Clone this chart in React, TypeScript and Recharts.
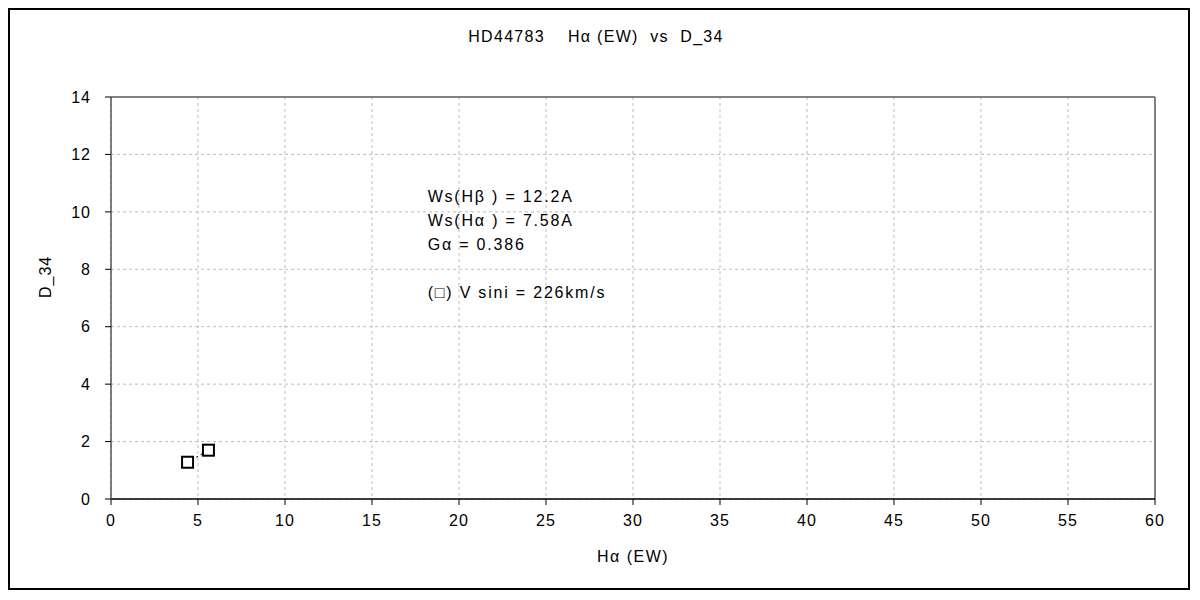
import { ScatterChart, Scatter, XAxis, YAxis, CartesianGrid, ReferenceLine, ReferenceDot } from 'recharts';

const haEW = [4.4, 5.6];
const d34 = [1.28, 1.7];
const xTicks = [0, 5, 10, 15, 20, 25, 30, 35, 40, 45, 50, 55, 60];
const yTicks = [0, 2, 4, 6, 8, 10, 12, 14];
const noteLines = ['Ws(Hβ ) = 12.2A', 'Ws(Hα ) = 7.58A', 'Gα = 0.386', '', '(□) V sini = 226km/s'];
const noteAt = { x: 18.2, y: 10.36 };

const points = haEW.map((x, i) => ({ x, y: d34[i] }));

const FONT = '"Liberation Sans", Arial, sans-serif';

const Square = (props: any) => {
  const { cx, cy } = props;
  if (cx == null || cy == null) return null;
  return <rect x={cx - 5.5} y={cy - 5.5} width={11} height={11} fill="#fff" stroke="#000" strokeWidth={2} />;
};

const Note = (props: any) => {
  const { cx, cy } = props;
  if (cx == null || cy == null) return null;
  return (
    <g>
      {noteLines.map((t, i) => (
        <text key={i} x={cx} y={cy + i * 24} fontSize={16} fill="#000" fontFamily={FONT} letterSpacing={1.8}>
          {t}
        </text>
      ))}
    </g>
  );
};

export default function App() {
  return (
    <div
      style={{
        position: 'relative',
        width: 1182,
        height: 582,
        boxSizing: 'border-box',
        border: '2px solid #000',
        background: '#fff',
        fontFamily: FONT,
      }}
    >
      <div
        style={{
          position: 'absolute',
          top: 18,
          left: 0,
          width: 1178,
          textAlign: 'center',
          fontSize: 16,
          letterSpacing: 1.3,
          paddingRight: 6,
          boxSizing: 'border-box',
        }}
      >
        HD44783{'\u00a0\u00a0\u00a0\u00a0'}Hα (EW){'\u00a0\u00a0'}vs{'\u00a0\u00a0'}D_34
      </div>
      <ScatterChart width={1178} height={578} margin={{ top: 87, right: 33, bottom: 29, left: 41 }}>
        <CartesianGrid stroke="#bdbdbd" strokeDasharray="3 3" />
        <XAxis
          type="number"
          dataKey="x"
          domain={[0, 60]}
          ticks={xTicks}
          interval={0}
          height={60}
          tickSize={6}
          tickMargin={10}
          axisLine={{ stroke: '#000', strokeWidth: 1.5 }}
          tickLine={{ stroke: '#000' }}
          tick={{ fill: '#000', fontSize: 16, fontFamily: FONT, letterSpacing: 1 }}
          label={{ value: 'Hα  (EW)', position: 'insideBottom', offset: -3, fill: '#000', fontSize: 16, fontFamily: FONT, letterSpacing: 1.5 }}
        />
        <YAxis
          type="number"
          dataKey="y"
          domain={[0, 14]}
          ticks={yTicks}
          interval={0}
          width={60}
          tickSize={6}
          tickMargin={14}
          axisLine={{ stroke: '#555', strokeWidth: 1.5 }}
          tickLine={{ stroke: '#000' }}
          tick={{ fill: '#000', fontSize: 16, fontFamily: FONT, letterSpacing: 1 }}
          label={{ value: 'D_34', angle: -90, position: 'insideLeft', offset: -6, fill: '#000', fontSize: 16, fontFamily: FONT, letterSpacing: 1 }}
        />
        <ReferenceLine y={14} stroke="#808080" strokeWidth={2} />
        <ReferenceLine x={60} stroke="#808080" strokeWidth={2} />
        <ReferenceDot x={noteAt.x} y={noteAt.y} r={0} shape={<Note />} />
        <Scatter
          data={points}
          line={{ stroke: '#000', strokeWidth: 1, strokeDasharray: '2 3' }}
          lineType="joint"
          shape={<Square />}
          isAnimationActive={false}
        />
      </ScatterChart>
    </div>
  );
}
